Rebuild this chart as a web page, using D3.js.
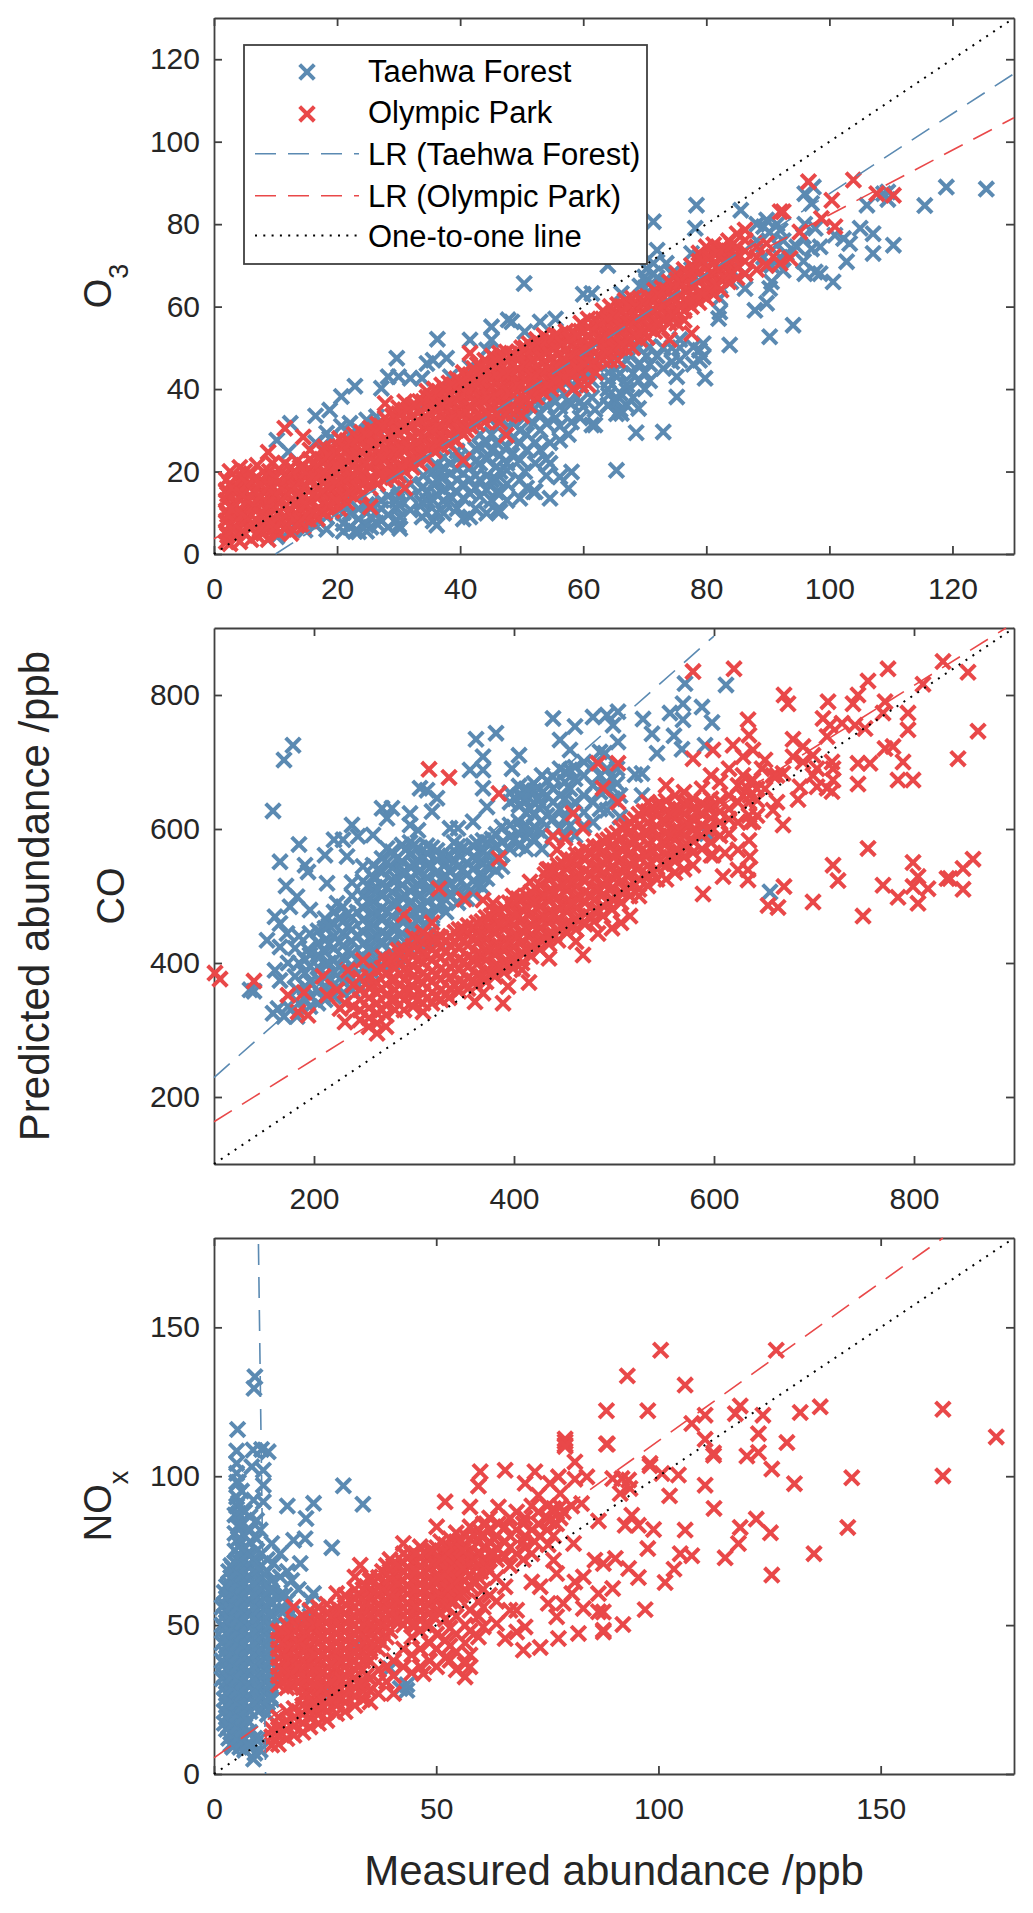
<!DOCTYPE html>
<html>
<head>
<meta charset="utf-8">
<title>Predicted vs measured abundance</title>
<script src="https://cdn.jsdelivr.net/npm/d3@7"></script>
<style>
    html, body { margin: 0; padding: 0; background: #fff; }
    svg { display: block; }
    text { font-family: "Liberation Sans", Arial, sans-serif; }
</style>
</head>
<body>
<div id="chart"></div>
<script>
// Every row below is [measured, predicted, predicted, ...]

const o3Taehwa = [
    [10.2,4.2],[12.4,31.7,6],[10.2,27.6],[12.1,24.8],[14.8,5.8,8],[16.5,33.5,27,7],[18.3,29.3,6,9],[18.8,34.9,28],[20.7,38.2,31],[21,7.4,10,5.5,12.5],
    [22.1,31.7,6.5,29,10],[22.9,40.7,5.5],[23.5,5.4,8.5,11,30],[24.8,32.5,7,10,5.5,12],[25.5,30,6.5,9,12],[26.4,33.3,9.9,7.5,31],[27.2,40.2,8,11,13],[28.3,43,6.5,9.5,14],
    [29.7,47.5,8.2,15.5,11,13],[30,43,7,12,14],[30.2,6.2,9],[31.9,42.6,10.7,14,17],[33.8,42.6,12.5,16,9],[34,35.7,12.3,16.3,19],[34.6,46.2,10,15,13],
    [35.6,47,13,17,20,8],[36.2,7,10,14.5,18,21.5],[36.3,52.1],[37.3,9.9,13,15.5,18.7,21,23.5],[37.8,47.5,12],[38.4,43,16.3,19.5,22,14],
    [39.5,11,15,18,20.5,23,25],[40.5,8.5,13.5,17,19.5,22],[41.6,51.9,45.4,9,14.7,18,21,24],[42.5,11,16,19,22.5,25.5],[43.2,22,14,18,26,29],
    [44.3,49.5,9.9,15.5,19,23,27],[45.1,55.1,51.9,13,18,25,29],[45.9,18,21.2,10.5,15,27,31],[46.5,10.3,14.7,20,24,33],[47.6,22,20.3,13,17,26,30,35],
    [47.8,56.8],[48.4,56.3,24,28,32],[49.7,13.5,22.8,18,27,30,35],[50.4,65.6],[50.5,53.9,20,33,37],[50.8,25.2,29,16],[51.9,31.7,15.1,35,39],
    [52.2,15.1,22,27,37],[53,25.2,30,34,56.3],[54,31.7,19,23,36],[54.6,22,13.5,27,39],[55.5,57,33,37,41],[56.2,35.7,27.6,18.7,31,40],
    [57.6,15.9,29,37,42,44],[58.1,36.5,19.9,32,40],[59.5,33,37,43,45],[60,35.7,40,45,63],[61.4,63.2,31.3,38,42],[61.9,31.3,35,44,47],
    [64,70,36.1,40,46],[64.1,36.1,38.5,42,44],[65.4,20.3,34,37,43],[66,43.8,35,39],[66.2,63.2,34.1,46,49],[67.1,39.7,36,41,47],[68.1,43.8,38,50],
    [68.6,29.4],[69,35.3,42,46,50],[69.2,46.2,65],[70,67.2,64.5,40,44],[70.3,69.2,66,48],[70.8,50.3,46,42],[71.4,80.6,70.5,65,68],[72,73.7,67,48],
    [73,29.6,45,50],[73.5,70.5,66],[74.4,46.6,50,68],[75.2,38.1,43],[75.7,47,50,52],[77.6,72.9,69],[77.9,50.2,46],[78.2,79],[78.4,84.6],
    [78.9,49.4,47,72],[79.5,47.8,51],[79.8,42.6],[82,57.1],[82.2,58.7,62],[83.8,50.7],[84,66,69],[85.6,83.4],[86.3,64.4,68],[87.9,59.1],
    [88.2,80,76],[89.3,79.4,72],[89.8,81,60.8,70],[90.3,64.4,52.7,78],[90.6,70,66],[91.5,80,75],[92,78.5,72],[92.5,68.8,76],[93,72.9],
    [94.1,55.5],[94.7,74.5],[95.8,77,71],[96,68,87.4,80],[97.1,85,74],[97.4,89],[97.7,68.4,79],[98.5,68,74.5],[100.6,66],[100.9,77.3],
    [102.3,76.5],[102.8,70.9],[103.3,75.3],[105,79],[106.1,84.6],[107.1,77.7,72.9],[108.8,87.4],[109.5,86,87.8],[110.4,74.9],[115.5,84.5],[119,89],[125.5,88.5]
];

const o3Olympic = [
    [2,3,5.5,8,10.5,13,15.5,18],[2.6,2.5,7,11.5,14.5,17,20],[3.5,4,6.5,9,12,15,18.5],[4.2,3,8,10.5,13.5,16,21],[5,5,7.5,12,15,18,20],
    [6,3.5,6.5,9.5,11.5,14,17,19.5],[7,4.5,8,11,13,16,18.5,21.5],[8,5,7,10,12.5,15,17.5,20],[8.8,3.5,9,14,18.5,24.7],[9.5,6,8,11,13.5,16,19,22],
    [10.5,5,7.5,10,12.5,15,17.5,20.5],[11.5,6,9,11.5,14,16.5,19,22,30.5],[12.5,5,8,10.5,13,15.5,18,21],[13.5,7,9.5,12,14.5,17,19.5,22.5],
    [14.5,6.6,9,11.5,14,16.5,19,21.5,28.4],[15.6,8,10.5,13,15.5,18,20.5,23,25.2],[16.8,8.5,11,13.5,16,18.5,21,23.5],[18,10,12.5,15,17.5,20,22.5,24.5,26],
    [19.2,10.5,13,15.5,18,20.5,23,25.5],[20.4,11,13.5,16,18.5,21,23.5,26,28],[21.6,12.5,15,17.5,20,22.5,25,27.5],[22.8,14,16.5,19,21.5,24,26.5,29],
    [24,14.5,17,19.5,22,24.5,27,29.5],[25.4,11.4,16,18.5,21,23.5,26,28.5,30.5],[26.6,17,19.5,22,24.5,27,29.5,31.5],[27.8,18,20.5,23,25.5,28,30.5,33,36.5],
    [29,18.5,21,23.5,26,28.5,31,33.5],[30,19,21.5,24,26.5,29,31.5,34,35.5],[31,16,20,22.5,25,27.5,30,32.5,35,36.9],[32.2,21,23.5,26,28.5,31,33.5,36],
    [33.4,22,24.5,27,29.5,32,34.5,37],[34.6,23,25.5,28,30.5,33,35.5,38,39.5],[35.8,25,27.5,30,32.5,35,37.5,40],[37,26,28.5,31,33.5,36,38.5,41],
    [38.2,26.5,29,31.5,34,36.5,39,41.5],[39.4,27.5,30,32.5,35,37.5,40,42.5],[40.5,22.8,29,31.5,34,36.5,39,41.5,44],[41.6,31,33.5,36,38.5,41,43.5,48.7],
    [42.8,31.5,34,36.5,39,41.5,44,46],[44,32,34.5,37,39.5,42,44.5,47],[45.2,33,35.5,38,40.5,43,45.5,48],[46.4,32,35,37.5,40,42.5,45,47.5,48.7],
    [47.5,28.8,34,37,39.5,42,44.5,47,49],[48.7,34,36,38.5,41,43.5,46,48.5],[50,33.5,36,38.5,41,43.5,46,48.5,50],[51.2,36,38.5,41,43.5,46,48.5,51],
    [52.4,38,40.5,43,45.5,48,50.5,52],[53.6,39,41.5,44,46.5,49,51,53],[54.8,40,42.5,45,47.5,50,52],[56,41,43.5,46,48.5,51,53],[57.2,42,44.5,47,49.5,52,54],
    [58.4,40,43.5,46,48.5,51,53.5],[59.6,41,44,46.5,49,51.5,54,56],[60.8,41,45,47.5,50,52.5,55,57],[62,44,46.5,49,51.5,54,56.5],[63.2,47,49.5,52,54.5,57,59],
    [64.4,47,50,52.5,55,57.5,60],[65.6,47,50.5,53,55.5,58,60.5],[66.8,50,52.5,55,57.5,60,61.5],[68,50,53,55.5,58,60.5,62],[69.2,52,54.5,57,59.5,62],
    [70.4,52.5,55,57.5,60,62.5],[71.6,54,56.5,59,61.5,64],[72.8,54.5,57,59.5,62,64.5],[74,52,56,58.5,61,63.5,66],[75.2,56,59,61.5,64,66.5,68],
    [76.4,59,61.5,64,66.5,69,56.7],[77.6,53.5,60,62.5,65,67.5,70],[78.8,61,63.5,66,68.5,71,73],[80,62,64.5,67,69.5,72,74.5],[81.2,63,65.5,68,70.5,73,75],
    [82.4,64,66.5,69,71.5,74],[83.6,66,68.5,71,73.5,76],[85,67,69.5,72,74.5,77.7],[86.3,68,71,73.5,76.1,78.6],[88.2,69,72,74.5],[89.8,75.3,70],
    [90.9,72.1],[92,70.5,83],[92.5,83],[93.6,71.7],[95.2,78.1],[96.6,90.3],[98.7,81.4],[100.4,85.8],[100.9,79.4],[103.9,90.7],[107.7,87.4],[110.4,87]
];

// the solid parts of the clouds hold more points than the edges
const o3OlympicCore = [
    [2.2,4.5,9.5,14.5],[3,6,11,16],[4.6,5.5,9.5,14.5,18.5],[5.5,8.5,13,17],[6.5,7,11.5,15,18],[7.5,6,9.5,14,17],[9,7,12,16.5,20],[10,6.5,11.5,14,18.5],
    [11,8,13,16,20],[12,7,10,14.5,18.5],[13,8.5,12,16,20],[14,8,13,17.5,21],[15,9.5,12,16.5,20],[16.2,10,14.5,19,22],[17.4,10.5,15,19.5,22.5],[18.6,12,16.5,21,24],
    [19.8,13,17,21.5,24.5],[21,14,18,22,26],[22.2,15,19,23,27],[23.4,16,20,24,28],[24.7,17.5,22,25.5,29],[26,18,22.5,26,30],[27.2,19.5,23.5,27,31],[28.4,20,24.5,29,32],
    [29.5,20,25,30,33],[30.5,21,25.5,30.5,34],[31.6,22,26,31,35],[32.8,23,27,32,36],[34,24,28,33,37],[35.2,26,30,34,38],[36.4,27,31,35,39],[37.6,28,32,36,40],
    [38.8,28,33,37,41],[40,30,34,38,42],[41,30,34.5,39,43],[42.2,32.5,37,40.5,45],[43.4,33,37.5,42,45.5],[44.6,34,38,43,46],[45.8,34,38.5,43.5,47],[47,36,40,44,48],
    [48,35,39,44,48],[49.4,37,41,45,49],[50.6,37.5,42,46,50],[51.8,39,43,47,50],[53,40,44,48,51],[54.2,41,45,49,52],[55.4,42,46,50,53],[56.6,43,47,51],
    [57.8,44,48,52],[59,45,49,53],[60.2,46,50,54],[61.4,46,50,54],[62.6,48,52,56],[63.8,49,53,57],[65,50,54,58],[66.2,51,55,59],[67.4,52,56,60],[68.6,53,57,60],
    [69.8,54,58,61],[71,55,59,62],[72.2,56,60,63],[73.4,57,61,64],[74.6,58,62,65],[75.8,60,63,66],[77,61,64,68],[78.2,62,65,69],[79.4,63,67,71],[80.6,64,68,72],
    [81.8,65,69,73],[83,67,71,74],[84.2,68,72,75]
];

const coTaehwa = [
    [136,360],[140,358],[153,434],[159,325,627],[161,389,469],[164,332],[166,424,459,374,551],[170,703,320],[172,515],[173,444],[174,335,400],[176,484],
    [179,725],[181,422,380],[183,499,320,360],[185,577,340,400,440],[191,546,345,365,385,405],[194,536,420],[196,479,335,350,372,395,412,444],
    [204,340,358,376,394,412,430,448],[211,561,345,362,380,398,416,434,452,466],[213,519],[220,350,368,386,404,422,440,458,476,584],[223,489],
    [229,584,355,372,390,408,426,444,462,484],[233,559],[238,606,360,378,396,414,432,450,468,500,520],[244,589],[249,544,375,392,410,428,446,464,482,500,522],
    [259,591,385,402,420,438,456,474,492,510,528,546],[268,631,392,410,428,446,464,482,500,518,536,556],[273,616,571],[278,631,400,416,434,452,470,488,506,524,542,566],
    [288,410,426,444,462,480,498,516,534,552,576],[296,623,606,420,436,454,472,490,508,526,544,562,580],[304,598,430,446,464,482,500,518,536,554,572],
    [306,661],[313,658,440,456,474,492,510,528,546,564,575],[318,626],[323,646,434,482,500,518,536,554,568],[332,476,494,512,530,548,558],[336,601,500,518,536,560],
    [344,601,490,508,526,544,562,574],[353,496,514,532,550,568],[356,688],[359,611,504,522,540,558,575],[362,734],[369,708,661,512,530,548,566,583,688],
    [373,633,526,544,562,580],[382,743,538,556,574,592],[388,603,544,562,580],[396,570,588,606,640,654],[398,690],[405,575,593,611,636,650,664,710],
    [412,570,588,606,624,642,660],[420,585,603,621,639,657,668],[428,570,594,612,636,654,680],[433,620,650,672],[439,765,590,615,640,660,678],
    [446,733,600,630,650,690],[451,590,615,645,670,685],[456,718,605,630,660,688],[461,753,590,640,675,692],[470,605,625,650,680,700],[479,767,610,640,665,695],
    [486,715,630,655,680],[491,713,668],[493,770,628,660,690],[499,755,645,675],[503,668,690],[504,775,730],[506,618,650],[521,681],[528,683,650],[529,764],
    [538,742],[543,713],[556,773],[560,739],[568,719],[569,787,763],[571,817],[588,782],[591,725],[593,593],[598,759],[612,815],[656,506]
];

const coTaehwaCore = [
    [215,372,400,428,456],[225,363,395,431,467],[234,382,418,454,474],[243,370,405,441,476],[254,384,420,456,492,515],[264,402,438,474,510,540],[273,405,441,477,513,550],
    [283,408,452,489,525,556],[292,430,465,500,535,570],[300,440,476,512,548,576],[309,448,484,520,556],[318,448,470,510,545,572],[327,490,525,560],[340,510,550,580],
    [349,500,540,572],[363,518,555,580],[378,545,585],[401,585,645],[408,600,650],[416,595,630,655],[424,598,645]
];

const coOlympic = [
    [101,385],[106,376],[140,373],[174,352],[184,327],[190,356],[194,322],[209,380],[213,352],[223,360],[226,332],[231,312,340],[234,389],[239,367,335],
    [246,315,330,345,360,378],[249,404],[255,305,318,333,348,363,380],[259,367],[263,295,310,325,340,355,370,388],[269,409],[272,305,322,337,352,368,384,400],
    [281,330,346,360,376,392,408],[284,419],[290,330,345,360,375,390,405,420,472],[299,335,350,365,380,395,410,425,439],[309,327,340,355,370,385,400,415,430,445],
    [315,689],[318,340,356,372,388,404,420,436,460],[325,511],[327,345,360,376,392,408,424,438],[335,677,348],[336,362,378,394,410,426,440],
    [345,358,374,390,406,422,438,450],[350,495],[354,362,378,394,410,426,442,456],[361,342],[363,366,382,398,414,430,446,460],[369,355,494],
    [372,372,388,404,420,436,452,468],[379,489],[381,380,396,412,428,444,460,476],[385,653,556],[389,340],[390,386,402,418,434,450,466,482],[394,365],
    [399,392,408,424,440,456,472,488,500],[408,400,416,432,448,464,480,496,390],[415,371],[416,521],[417,410,426,442,458,474,490,506],[426,420,436,452,468,484,500,516],
    [433,539],[435,407,428,444,460,476,492,508,524,540],[439,589],[443,569],[444,434,450,466,482,498,514,530,546],[451,586],[453,445,460,476,492,508,524,540,556],
    [459,623],[462,432,450,466,482,498,514,530,546,562],[469,412,601],[471,458,474,490,506,522,538,554,570],[480,462,478,494,510,526,542,558,574],[484,698,444],
    [489,661,470,486,502,518,534,550,566,582],[498,452,480,496,512,528,544,560,576,590],[504,698,640],[507,460,490,506,522,538,554,570,586,602],
    [516,470,500,516,532,548,564,580,596,610],[525,500,510,526,542,558,574,590,606,622],[534,515,530,546,562,578,594,610,626,640],[543,525,540,556,572,588,604,620,636],
    [552,525,545,562,578,594,610,626,642,665],[561,535,552,568,584,600,616,632,650],[570,540,558,574,590,606,622,638,655],[579,835,705,546,565,582,598,614,630,645],
    [588,570,590,606,622,638,660],[589,503],[597,561,580,600,616,632,645,680],[599,718,561],[606,590,610,626,642,670],[609,529],[611,564],[615,593,615,630,650,690],
    [619,725],[620,839],[624,569,539,610,640,665],[629,708,650,680],[634,763,539,524,660],[635,740,583,620,640],[636,559,610,650,670],[639,718,673,611],
    [643,643,660,620],[648,690],[651,703,660],[654,486],[659,628,680],[663,680,640],[664,483],[669,683,606],[670,800,514],[674,787],[679,734,708],
    [684,644],[686,663],[689,723,700],[699,710,491,680],[703,663,690],[709,765],[713,738,661],[714,790],[716,755],[718,656,700],[719,690,673,546],
    [724,523],[728,758],[739,787],[741,755],[744,698,667,800],[749,470],[751,750],[754,821,571],[756,698],[769,773,516],[771,790,720],[774,839],
    [779,723],[784,673,498],[789,700],[794,773,748],[799,673,550,514],[804,529,489],[809,816],[814,511],[829,850],[833,526],[836,526],[844,705],
    [849,541,510],[854,834],[859,555],[864,746]
];

const coOlympicCore = [
    [268,330,362,392],[277,345,375,405],[286,352,384,412],[295,358,388,416],[304,346,376,406,436],[313,348,380,412,440],[322,350,382,414,436],[332,354,386,418,434],
    [341,366,398,430,446],[350,370,402,434,450],[359,374,406,438,454],[368,380,412,444,462],[377,386,420,452,470],[386,394,426,458,476],[395,400,432,464,490],
    [404,408,440,472,496],[413,418,450,482,500],[422,428,460,492,510],[431,436,468,500,532],[440,442,474,506,538],[449,452,484,516,548],[458,458,490,522,554],
    [467,466,498,530,562],[476,470,502,534,566],[485,478,510,542,574],[494,490,520,552,584],[503,498,530,562,594],[512,508,540,572,604],[521,518,550,582,614],
    [530,530,562,594,626],[539,536,568,600,632],[548,548,580,612,636],[557,558,590,622],[566,566,598,630],[575,574,606,638],[584,596,628],[593,600,632]
];

const noxTaehwa = [
    [1.8,32,38,44,50,56],[2.8,15,19,23,27,31,35,39,43,47,51,55,59,63],[3.8,10,14,18,22,26,30,34,38,42,46,50,54,58,62,66,70],
    [4.7,11,15,19,23,27,31,35,39,43,47,51,55,59,63,67,71,75,80.8,87],[5.1,108.5,104.3,101,98,93,90],[5.3,115.7],[5.5,98,87.5,91,83,79],
    [5.8,9,13,17,21,25,29,33,37,41,45,49,53,57,61,65,69,73,77,84],[6.2,84,95],[6.9,8,12,16,20,24,28,32,36,40,44,48,52,56,60,64,68,72,76,80,88],
    [8.1,86.4,10,14,21,26,30,34,38,42,46,50,54,58,62,66,70,74,78,82],[8.5,103.2],[8.8,108.8],[8.9,92,5],[9,129.5],[9.2,133.4,12,7],
    [9.6,85.2,23,27,31,35,39,43,47,51,55,59,63,67,71,75,79],[10.4,81.9,8,12],[10.7,109,22,26,30,34,38,42,46,50,54,58,62,66,70,74],[11.1,102,97,91.4],
    [12,20,24,28,32,36,40,44,48,52,56,60,64,68,72],[12.2,108.2],[13,77.4,25,29,33,37,41,45,49,53,57,61,65],[13.4,70.7],[14.9,74,66.2,55,48,60],
    [16,55,60,50],[16.5,90,68,58],[17.5,65,54],[17.9,78.5],[19,51.6,62],[19.4,70.7],[20.5,79,52],[20.7,85.8],[21.6,58.4,53],[22.4,90.9,60.6],
    [25,29.8],[25.4,24.8],[26.5,76],[29.1,96.8],[32.1,43.8],[33.5,90.6],[39.6,35.4],[41.9,28.7],[43.4,28.1,30]
];

const noxTaehwaCore = [
    [2.3,17,21,25,29,33,37,41,45,49,53,57,61],[3.3,12,16,20,24,28,32,36,40,44,48,52,56,60,64,68],[4.2,9,13,17,21,25,29,33,37,41,45,49,53,57,61,65,69],
    [5.2,12,16,20,24,28,32,36,40,44,48,52,56,60,64,68,72],[6.4,11,15,19,23,27,31,35,39,43,47,51,55,59,63,67,71,75],[7.5,10,14,18,22,26,30,34,38,42,46,50,54,58,62,66,70,74],
    [8.8,24,28,32,36,40,44,48,52,56,60,64,68,72],[10,21,25,29,33,37,41,45,49,53,57,61,65,69],[11.3,23,27,31,35,39,43,47,51,55,59,63,67],[12.6,22,26,30,34,38,42,46,50,54,58,62]
];

const noxOlympic = [
    [13,9.7,12.5,15],[14.5,10,13,16,19,30,33,36,39,42,45,48],[16.4,11.9,15,18,21,29,32,35,38,41,44,47,50],[17.9,56.1],
    [18,13,16,19,22,29.5,33,36,39,42,45,48,51],[20,14,17,20,23,26,29,32,35,38,41,44,47,50,53],[21.6,15.8,19,22,25,28,31,34,37,40,43,46,49,52,55],
    [23.5,17,20,23,26,29,32,35,38,41,44,47,50,53,56],[25.4,18,21,24,27,30,33,36,39,42,45,48,51,54,57],[27.6,20.3,23,26,29,32,35,38,41,44,47,50,53,56,60.6],
    [29.5,21,24,27,30,33,36,39,42,45,48,51,54,57,60],[31.7,66.2,23,26,29,32,35,38,41,44,47,50,53,56,59,62],[32.9,70.1],[33.5,25,28,31,35,38,41,44,47,50,53,56,59,62],
    [35.1,66.2,24.2,28,32,38,41,44,47,50,53,56,59,62,65],[37,27,31,35,42,45,48,51,54,57,60,63,66],[38.8,31,36,46,49,52,55,58,61,64,67,70],
    [40.4,27,33,38,52,55,58,61,64,67,70],[42.6,77.4,36,42,50,53,56,59,62,65,68,71,74],[44.5,34,40,46,50,53,56,59,62,65,68,71,74],[46.4,76.3,36,42,48,52,55,58,61,64,67,70,73],
    [47.1,33.7],[48.5,38,44,50,54,57,60,63,66,69,72,75],[50.1,83,36,42,47,55,58,61,64,67,70,73,76],[52,91.4,39,45,52,56,59,62,65,68,71,74,77],
    [53.1,38.2,43,49,58,61,64,67,70,73,76,79],[54.5,35,41,47,53,60,63,66,69,72,75,78,81],[56.5,32.6,37,44,50,62,65,68,71,74,77,80],[57.6,89.7,36,40,48,55,63,67,71,75,79,83],
    [59.5,96.7,46,53,58,66,70,74,78,82],[59.9,101.5],[60.6,49.4,56,62,72,76,80,84],[62,60,68,74,78,82,86],[63.6,50.5,58,66,72,76,80],[64,89.7,84],[65.5,102,62.9,45.5,73,78,83],
    [66.6,55,70,76,80,86],[68.1,47.7,55,74,82,88],[69.6,41.6,72,78,84],[70,97.6,49.4,76,80,86],[71.5,64.5,74,82,90],[72.2,101.5,78],[73,93.6,84,88],[73.4,42.5,62.9,80],
    [75,82,86,90],[75.2,57.3,77],[75.6,97.6,85],[76.4,71.8,89.2,80],[77.1,52.8,67.3,84],[77.5,45.5,99.8],[77.9,94.2,89.7,86],[78.6,57.3,88],[79,111.6,112.5,110.5,110],
    [80.5,60.6,90],[80.9,77.4],[81.2,104.8,64.5,99],[82,47.2],[82.7,90.8],[83.1,55.6,66.2],[83.9,99.8],[85.7,71.8],[86.5,60.6,54.5,85],[87.6,47.7,54.4,48.3,70.7],
    [88.3,122,110.8],[88.5,110.8],[89.7,99.2,62.3],[90.3,72.4],[91.4,94.2],[91.8,99.2],[92,50.2],[92.5,83.5],[93,133.7],[93.3,98.7,69],[93.6,95.9],[94,86.9],[95.5,83.5,66],
    [97,55.2],[97.6,122,75.7],[98.1,104.3,103.5],[98.9,82.1],[100.5,142.3],[100.8,100.9],[101.5,64.3],[102.5,93.4],[103.5,68.8],[104.5,100.4],[104.9,74],[106,130.6,81.9],
    [107.5,117.7,73.3],[110.5,120.5,112.4,97],[112.4,107,107.8],[112.5,89.2],[115,72.6],[117.3,121],[118,77.4],[118.4,123.6,82.8],[119.9,106.8],[122,85.6],[122.5,114.3,108],
    [123.5,120.5],[125.2,81],[125.5,102.4,66.8],[126.5,142.3],[128.9,111.3],[130.6,97.5],[131.9,121.4],[135,74],[136.4,123.3],[142.6,82.8],[143.5,99.5],[164,122.5,100.1],[176,113.2]
];

const noxOlympicCore = [
    [15.4,31,35,40,44,48],[17.2,30,34,38,43,47],[19,31,36,40,44,49],[20.8,22,27,32,37,42,47,51],[22.6,24,30,35,40,45,50],[24.4,23,29,34,40,46,52],[26.5,25,31,37,43,49,53],
    [28.5,26,32,38,43,49,55],[30.6,28,34,40,46,52,58],[32.6,30,36,42,48,54,60],[34.3,33,39,45,51,57,63],[36,43,49,55,61],[37.9,44,50,56,62,68],[39.6,48,54,60,66,72],
    [41.5,52,58,64,70],[43.5,52,57,63,69,73],[45.4,50,56,62,68,74],[47.4,50,56,62,68,74],[49.3,53,59,65,71,75],[51,54,60,66,72,78],[52.7,56,62,68,74],[54,58,64,70,76],
    [55.5,60,66,72,78],[56,61,69,75],[58.6,64,72,80],[60,68,74,80],[61.2,70,76,84],[63,74,79]
];

// Fit lines, end points as they show in the picture
const o3FitTaehwa = [[10, 0], [130, 116.5]];
const o3FitOlympic = [[0, 3.7], [130, 105.8]];
const coFitTaehwa = [[100, 229], [600, 888]];
const coFitOlympic = [[100, 163], [892, 900]];
const noxFitTaehwa = [[10, 178], [11.6, 0]];
const noxFitOlympic = [[0, 5.4], [164, 180]];

const o3Ticks = [0, 20, 40, 60, 80, 100, 120];
const coTicks = [200, 400, 600, 800];
const noxTicks = [0, 50, 100, 150];

const legendLabels = ["Taehwa Forest", "Olympic Park", "LR (Taehwa Forest)", "LR (Olympic Park)", "One-to-one line"];

const blue = "#5b8ab2";
const red = "#e94849";
const axisColor = "#404040";
const textColor = "#262626";

const panels = [
    { top: 18, domain: [0, 130], ticks: o3Ticks, name: "O", sub: "3", taehwa: o3Taehwa, olympic: o3Olympic.concat(o3OlympicCore), fitT: o3FitTaehwa, fitO: o3FitOlympic },
    { top: 628, domain: [100, 900], ticks: coTicks, name: "CO", sub: "", taehwa: coTaehwa.concat(coTaehwaCore), olympic: coOlympic.concat(coOlympicCore), fitT: coFitTaehwa, fitO: coFitOlympic },
    { top: 1238, domain: [0, 180], ticks: noxTicks, name: "NO", sub: "x", taehwa: noxTaehwa.concat(noxTaehwaCore), olympic: noxOlympic.concat(noxOlympicCore), fitT: noxFitTaehwa, fitO: noxFitOlympic }
];

const left = 214, plotWidth = 800, plotHeight = 536;
const timesMark = d3.symbol(d3.symbolTimes, 142);

const svg = d3.select("#chart").append("svg")
    .attr("width", 1033)
    .attr("height", 1913)
    .style("background", "#fff");

function toPoints(rows) {
    return rows.flatMap(([x, ...ys]) => ys.map(y => [x, y]));
}

function drawMarks(g, rows, x, y, color) {
    g.append("g")
        .selectAll("path")
        .data(toPoints(rows))
        .join("path")
        .attr("d", timesMark)
        .attr("transform", d => `translate(${x(d[0])},${y(d[1])})`)
        .attr("fill", "none")
        .attr("stroke", color)
        .attr("stroke-width", 4);
}

function drawFit(g, points, x, y, color, dash, width) {
    g.append("path")
        .datum(points)
        .attr("d", d3.line().x(d => x(d[0])).y(d => y(d[1])))
        .attr("fill", "none")
        .attr("stroke", color)
        .attr("stroke-width", width)
        .attr("stroke-dasharray", dash);
}

function styleAxis(sel) {
    sel.selectAll("path, line").attr("stroke", axisColor).attr("stroke-width", 1.8);
    sel.selectAll("text").attr("fill", textColor).attr("font-size", 30);
}

panels.forEach(p => {
    const x = d3.scaleLinear().domain(p.domain).range([0, plotWidth]);
    const y = d3.scaleLinear().domain(p.domain).range([plotHeight, 0]);
    const g = svg.append("g").attr("transform", `translate(${left},${p.top})`);

    // box with inward ticks on all four sides
    g.append("g").attr("transform", `translate(0,${plotHeight})`)
        .call(d3.axisBottom(x).tickValues(p.ticks).tickSizeInner(-8).tickSizeOuter(0).tickPadding(24))
        .call(styleAxis);
    g.append("g")
        .call(d3.axisLeft(y).tickValues(p.ticks).tickSizeInner(-8).tickSizeOuter(0).tickPadding(14))
        .call(styleAxis);
    g.append("g")
        .call(d3.axisTop(x).tickValues(p.ticks).tickSizeInner(-8).tickSizeOuter(0).tickFormat(""))
        .call(styleAxis);
    g.append("g").attr("transform", `translate(${plotWidth},0)`)
        .call(d3.axisRight(y).tickValues(p.ticks).tickSizeInner(-8).tickSizeOuter(0).tickFormat(""))
        .call(styleAxis);

    drawMarks(g, p.taehwa, x, y, blue);
    drawMarks(g, p.olympic, x, y, red);
    drawFit(g, p.fitT, x, y, blue, "21 12", 1.6);
    drawFit(g, p.fitO, x, y, red, "21 12", 1.6);
    drawFit(g, [[p.domain[0], p.domain[0]], [p.domain[1], p.domain[1]]], x, y, "#000", "2 6.3", 2);

    // species label, rotated, with its subscript
    const label = svg.append("text")
        .attr("transform", `translate(${p.sub ? 111 : 124},${p.top + plotHeight / 2}) rotate(-90)`)
        .attr("text-anchor", "middle")
        .attr("fill", textColor)
        .attr("font-size", 38)
        .text(p.name);
    if (p.sub) {
        label.append("tspan").attr("dy", 17).attr("font-size", 27).text(p.sub);
    }
});

svg.append("text")
    .attr("transform", "translate(49,896) rotate(-90)")
    .attr("text-anchor", "middle")
    .attr("fill", textColor)
    .attr("font-size", 42)
    .text("Predicted abundance /ppb");

svg.append("text")
    .attr("x", 614)
    .attr("y", 1885)
    .attr("text-anchor", "middle")
    .attr("fill", textColor)
    .attr("font-size", 42)
    .text("Measured abundance /ppb");

// legend sits over the top panel
const legend = svg.append("g").attr("transform", "translate(244,45)");
legend.append("rect")
    .attr("width", 403)
    .attr("height", 219)
    .attr("fill", "#fff")
    .attr("stroke", axisColor)
    .attr("stroke-width", 1.8);

const legendStyles = [
    { mark: blue }, { mark: red },
    { line: blue, dash: "21 12", width: 1.6 }, { line: red, dash: "21 12", width: 1.6 },
    { line: "#000", dash: "2 6.3", width: 2 }
];

legendLabels.forEach((name, i) => {
    const rowY = 36.5 + i * 41.9 - (i === 4 ? 2 : 0);
    const s = legendStyles[i];
    if (s.mark) {
        legend.append("path")
            .attr("d", timesMark)
            .attr("transform", `translate(63,${rowY - 9.5})`)
            .attr("fill", "none")
            .attr("stroke", s.mark)
            .attr("stroke-width", 4);
    } else {
        legend.append("line")
            .attr("x1", 11).attr("x2", 115)
            .attr("y1", rowY - 11.5).attr("y2", rowY - 11.5)
            .attr("stroke", s.line)
            .attr("stroke-width", s.width)
            .attr("stroke-dasharray", s.dash);
    }
    legend.append("text")
        .attr("x", 124)
        .attr("y", rowY)
        .attr("fill", "#000")
        .attr("font-size", 31)
        .text(name);
});
</script>
</body>
</html>
